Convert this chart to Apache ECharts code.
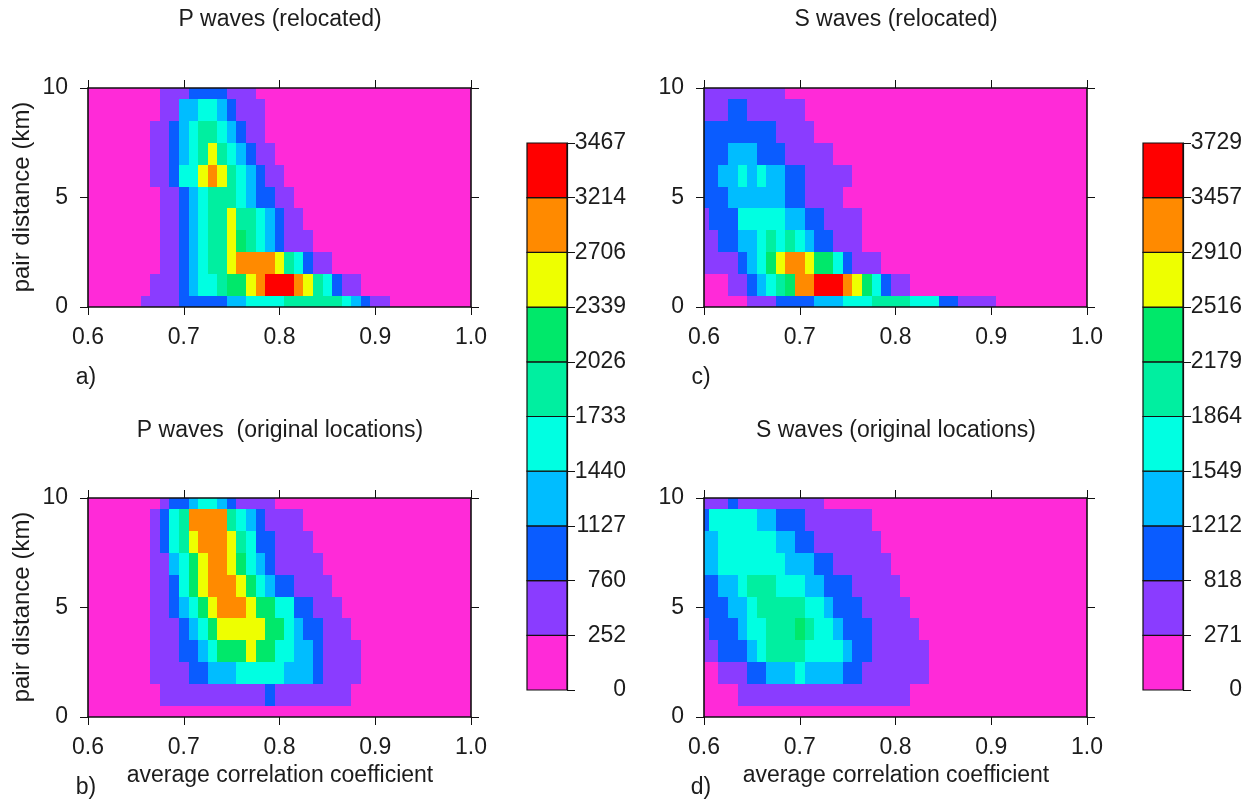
<!DOCTYPE html>
<html>
<head>
<meta charset="utf-8">
<script src="https://cdn.jsdelivr.net/npm/echarts@6.0.0/dist/echarts.min.js"></script>
<style>
  html, body { margin: 0; padding: 0; background: #ffffff; }
  #chart { width: 1251px; height: 799px; }
</style>
</head>
<body>
<div id="chart"></div>
<script>
// Grid nodes: correlation coefficient columns and pair-distance rows (top row = 10 km)
const coefficientNodes = [0.60, 0.61, 0.62, 0.63, 0.64, 0.65, 0.66, 0.67, 0.68, 0.69,
                          0.70, 0.71, 0.72, 0.73, 0.74, 0.75, 0.76, 0.77, 0.78, 0.79,
                          0.80, 0.81, 0.82, 0.83, 0.84, 0.85, 0.86, 0.87, 0.88, 0.89,
                          0.90, 0.91, 0.92, 0.93, 0.94, 0.95, 0.96, 0.97, 0.98, 0.99, 1.00];
const distanceNodes = [10, 9, 8, 7, 6, 5, 4, 3, 2, 1, 0];

// Colour-scale boundaries (pair counts) of the two colour bars
const pLevels = [0, 252, 760, 1127, 1440, 1733, 2026, 2339, 2706, 3214, 3467];
const sLevels = [0, 271, 818, 1212, 1549, 1864, 2179, 2516, 2910, 3457, 3729];
const bandColors = ['#ff2ad8', '#8a3cff', '#0a5cff', '#00bdff', '#00ffe2',
                    '#00efa0', '#00e86a', '#eeff00', '#ff8a00', '#ff0000'];

// Count band of every cell (digit = band index, one string per distance row, blocks of 10 columns)
const pRelocatedRows = [
  '0000000011 1222211100 0000000000 0000000000 0',
  '0000000011 3344321110 0000000000 0000000000 0',
  '0000000112 3455432110 0000000000 0000000000 0',
  '0000000112 3457543211 0000000000 0000000000 0',
  '0000000112 4478754321 1000000000 0000000000 0',
  '0000000011 2345554322 1100000000 0000000000 0',
  '0000000011 2345575543 2110000000 0000000000 0',
  '0000000011 2345576543 2111000000 0000000000 0',
  '0000000011 2345578888 7542110000 0000000000 0',
  '0000000111 2344566789 9987542110 0000000000 0',
  '0000001111 2222233444 4555555432 1100000000 0'
];
const pOriginalRows = [
  '0000000012 2344321111 0000000000 0000000000 0',
  '0000000124 5888854321 1110000000 0000000000 0',
  '0000000124 5788875422 1111000000 0000000000 0',
  '0000000113 4678876432 1111100000 0000000000 0',
  '0000000112 4678887643 2211110000 0000000000 0',
  '0000000112 3467888766 4422111000 0000000000 0',
  '0000000111 2346777776 6432211100 0000000000 0',
  '0000000111 2234666766 4433211110 0000000000 0',
  '0000000111 1223334444 4333211110 0000000000 0',
  '0000000011 1111111112 1111111100 0000000000 0',
  '0000000000 0000000000 0000000000 0000000000 0'
];
const sRelocatedRows = [
  '1111111110 0000000000 0000000000 0000000000 0',
  '1112211111 1000000000 0000000000 0000000000 0',
  '2222222211 1100000000 0000000000 0000000000 0',
  '2223332221 1111000000 0000000000 0000000000 0',
  '2233434332 2111110000 0000000000 0000000000 0',
  '2223333332 2111100000 0000000000 0000000000 0',
  '1222444443 3221111000 0000000000 0000000000 0',
  '1122334545 4322111000 0000000000 0000000000 0',
  '1111234678 8766421110 0000000000 0000000000 0',
  '0001123456 8899987642 1100000000 0000000000 0',
  '0000011122 2233344455 5544422111 1000000000 0'
];
const sOriginalRows = [
  '1112111111 1110000000 0000000000 0000000000 0',
  '2444443322 2111111100 0000000000 0000000000 0',
  '3344444433 2211111110 0000000000 0000000000 0',
  '3344444443 3322111111 0000000000 0000000000 0',
  '2233455544 4332221111 1000000000 0000000000 0',
  '2223345555 5443222111 1100000000 0000000000 0',
  '1222344555 6544322211 1110000000 0000000000 0',
  '1122234555 5444432211 1111000000 0000000000 0',
  '0011122333 4333322111 1111000000 0000000000 0',
  '0000111111 1111111111 1100000000 0000000000 0',
  '0000000000 0000000000 0000000000 0000000000 0'
];

const FONT = "'Liberation Sans', Arial, Helvetica, sans-serif";
const INK = '#1c1c1c';
const FS = 23;

// representative count of a band: its middle
function bandValue(levels, band) {
  return (levels[band] + levels[band + 1]) / 2;
}

function toCells(rows, levels) {
  const cells = [];
  rows.forEach((row, r) => {
    const bands = row.replace(/ /g, '');
    for (let k = 0; k < bands.length; k++) {
      cells.push([coefficientNodes[k], distanceNodes[r], bandValue(levels, Number(bands[k]))]);
    }
  });
  return cells;
}

function barCells(levels) {
  return levels.slice(0, -1).map((_, i) => [0, i, bandValue(levels, i)]);
}

const halfCellX = (coefficientNodes[1] - coefficientNodes[0]) / 2;
const halfCellY = (distanceNodes[0] - distanceNodes[1]) / 2;

// one grid cell, centred on its node, snapped to whole pixels and clipped to the frame
function renderCell(params, api) {
  const x = api.value(0), y = api.value(1);
  const p0 = api.coord([x - halfCellX, y + halfCellY]);
  const p1 = api.coord([x + halfCellX, y - halfCellY]);
  const x0 = Math.round(Math.min(p0[0], p1[0])), x1 = Math.round(Math.max(p0[0], p1[0]));
  const y0 = Math.round(Math.min(p0[1], p1[1])), y1 = Math.round(Math.max(p0[1], p1[1]));
  const cs = params.coordSys;
  const shape = echarts.graphic.clipRectByRect(
    { x: x0, y: y0, width: x1 - x0, height: y1 - y0 },
    { x: cs.x, y: cs.y, width: cs.width, height: cs.height }
  );
  if (!shape) return null;
  return { type: 'rect', shape: shape, style: { fill: api.visual('color') } };
}

// one box of a colour bar
function renderBox(params, api) {
  const i = api.value(1);
  const p0 = api.coord([0, i + 1]);
  const p1 = api.coord([1, i]);
  return {
    type: 'rect',
    shape: { x: p0[0], y: p0[1], width: p1[0] - p0[0], height: p1[1] - p0[1] },
    style: { fill: api.visual('color'), stroke: '#111', lineWidth: 1.2 }
  };
}

function pieces(levels) {
  return bandColors.map((c, i) => ({ gte: levels[i], lt: levels[i + 1] + (i === bandColors.length - 1 ? 1 : 0), color: c }));
}

// panel frames: a, b (left column), c, d (right column)
const panels = [
  { left: 88, top: 88 },
  { left: 88, top: 498 },
  { left: 704, top: 88 },
  { left: 704, top: 498 }
];
const PW = 383, PH = 219;

const frameLine = { show: true, onZero: false, lineStyle: { color: '#111', width: 1.6 } };
const outTick = { show: true, inside: false, length: 8, lineStyle: { color: '#111', width: 1 } };

const grids = panels.map(p => ({ left: p.left, top: p.top, width: PW, height: PH }));
grids.push({ left: 527, top: 143, width: 40, height: 547 });
grids.push({ left: 1143, top: 143, width: 40, height: 547 });

const xAxes = [];
const yAxes = [];
panels.forEach((p, g) => {
  xAxes.push({
    type: 'value', gridIndex: g, position: 'bottom', min: 0.6, max: 1.0, interval: 0.1, z: 10,
    axisLine: frameLine, axisTick: outTick, splitLine: { show: false },
    axisLabel: { fontSize: FS, color: INK, fontFamily: FONT, margin: 19, formatter: v => v.toFixed(1) }
  });
  xAxes.push({
    type: 'value', gridIndex: g, position: 'top', min: 0.6, max: 1.0, interval: 0.1, z: 10,
    axisLine: frameLine, axisTick: outTick, splitLine: { show: false }, axisLabel: { show: false }
  });
  yAxes.push({
    type: 'value', gridIndex: g, position: 'left', min: 0, max: 10, interval: 5, z: 10,
    axisLine: frameLine, axisTick: outTick, splitLine: { show: false },
    axisLabel: { fontSize: FS, color: INK, fontFamily: FONT, margin: 20 }
  });
  yAxes.push({
    type: 'value', gridIndex: g, position: 'right', min: 0, max: 10, interval: 5, z: 10,
    axisLine: frameLine, axisTick: outTick, splitLine: { show: false }, axisLabel: { show: false }
  });
});
[pLevels, sLevels].forEach((levels, j) => {
  xAxes.push({
    type: 'value', gridIndex: 4 + j, min: 0, max: 1, show: false,
    axisLine: { show: false, onZero: false }, axisTick: { show: false },
    axisLabel: { show: false }, splitLine: { show: false }
  });
  yAxes.push({
    type: 'value', gridIndex: 4 + j, position: 'right', min: 0, max: 10, interval: 1, z: 10,
    axisLine: { show: true, onZero: false, lineStyle: { color: '#111', width: 1.2 } },
    splitLine: { show: false },
    axisTick: { show: true, inside: false, length: 8, lineStyle: { color: '#111', width: 1 } },
    axisLabel: { fontSize: FS, color: INK, fontFamily: FONT, align: 'right', margin: 59,
                 formatter: v => String(levels[v]) }
  });
});

const heatSeries = [
  { rows: pRelocatedRows, levels: pLevels, panel: 0 },
  { rows: pOriginalRows, levels: pLevels, panel: 1 },
  { rows: sRelocatedRows, levels: sLevels, panel: 2 },
  { rows: sOriginalRows, levels: sLevels, panel: 3 }
].map(s => ({
  type: 'custom', renderItem: renderCell, clip: true,
  xAxisIndex: 2 * s.panel, yAxisIndex: 2 * s.panel,
  data: toCells(s.rows, s.levels), animation: false, silent: true
}));

const barSeries = [pLevels, sLevels].map((levels, j) => ({
  type: 'custom', renderItem: renderBox,
  xAxisIndex: 8 + j, yAxisIndex: 8 + j,
  data: barCells(levels), animation: false, silent: true
}));

function label(text, x, y, extra, size) {
  return Object.assign({
    type: 'text', x: x, y: y, silent: true,
    style: { text: text, font: (size || FS) + 'px ' + FONT, fill: INK, align: 'center', verticalAlign: 'middle' }
  }, extra || {});
}

const graphics = [
  label('P waves (relocated)', 280, 20),
  label('S waves (relocated)', 896, 20),
  label('P waves  (original locations)', 280, 431),
  label('S waves (original locations)', 896, 431),
  label('average correlation coefficient', 280, 776),
  label('average correlation coefficient', 896, 776),
  label('a)', 86, 378),
  label('b)', 86, 788),
  label('c)', 701, 378),
  label('d)', 701, 788),
  label('pair distance (km)', 22, 197, { rotation: Math.PI / 2 }, 24),
  label('pair distance (km)', 22, 607, { rotation: Math.PI / 2 }, 24)
];

const chart = echarts.init(document.getElementById('chart'), null, { renderer: 'canvas' });
chart.setOption({
  backgroundColor: '#ffffff',
  animation: false,
  textStyle: { fontFamily: FONT },
  grid: grids,
  xAxis: xAxes,
  yAxis: yAxes,
  visualMap: [
    { type: 'piecewise', show: false, dimension: 2, seriesIndex: [0, 1, 4], pieces: pieces(pLevels) },
    { type: 'piecewise', show: false, dimension: 2, seriesIndex: [2, 3, 5], pieces: pieces(sLevels) }
  ],
  series: heatSeries.concat(barSeries),
  graphic: graphics
});
</script>
</body>
</html>
